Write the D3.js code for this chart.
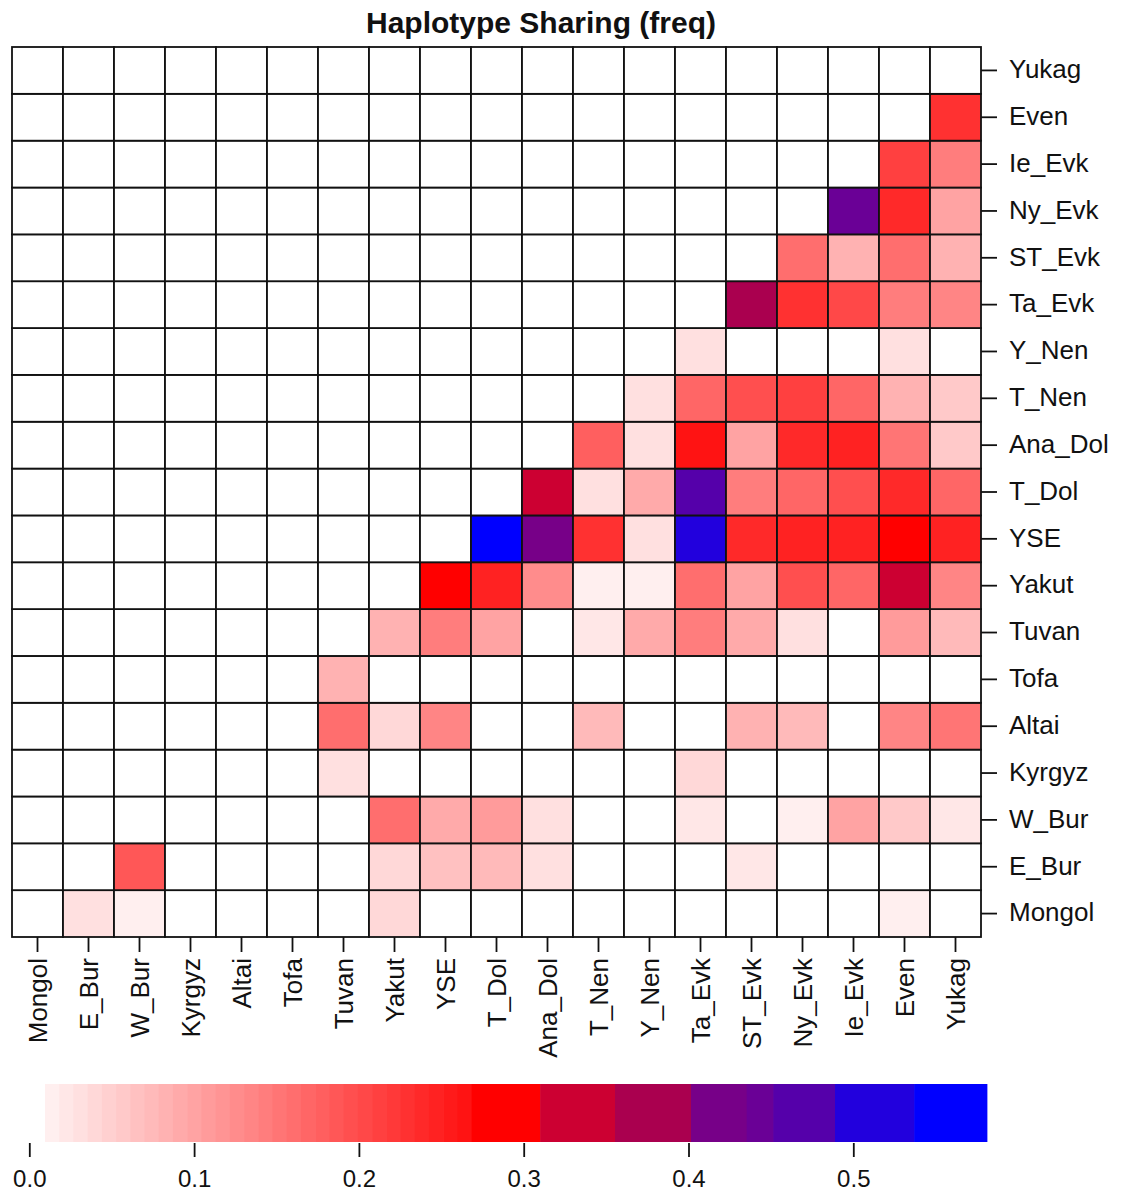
<!DOCTYPE html>
<html>
<head>
<meta charset="utf-8">
<script src="https://cdn.jsdelivr.net/npm/d3@7"></script>
<style>
  html, body { margin: 0; padding: 0; background: #fff; }
  svg { display: block; font-family: "Liberation Sans", Arial, sans-serif; }
</style>
</head>
<body>
<svg id="chart" width="1126" height="1196"></svg>
<script>
// ---------- data ----------
const populations = ["Mongol","E_Bur","W_Bur","Kyrgyz","Altai","Tofa","Tuvan","Yakut","YSE","T_Dol",
  "Ana_Dol","T_Nen","Y_Nen","Ta_Evk","ST_Evk","Ny_Evk","Ie_Evk","Even","Yukag"];

// sharing[i][j] : haplotype sharing frequency between populations[i] (row) and populations[j] (column)
const sharing = [
/* Mongol  */ [0, .031, .015, 0, 0, 0, 0, .044, 0, 0, 0, 0, 0, 0, 0, 0, 0, .015, 0],
/* E_Bur   */ [0, 0, .190, 0, 0, 0, 0, .044, .067, .076, .031, 0, 0, 0, .026, 0, 0, 0, 0],
/* W_Bur   */ [0, 0, 0, 0, 0, 0, 0, .163, .092, .112, .035, 0, 0, .022, 0, .015, .099, .056, .026],
/* Kyrgyz  */ [0, 0, 0, 0, 0, 0, .035, 0, 0, 0, 0, 0, 0, .044, 0, 0, 0, 0, 0],
/* Altai   */ [0, 0, 0, 0, 0, 0, .158, .044, .131, 0, 0, .072, 0, 0, .085, .072, 0, .131, .149],
/* Tofa    */ [0, 0, 0, 0, 0, 0, .085, 0, 0, 0, 0, 0, 0, 0, 0, 0, 0, 0, 0],
/* Tuvan   */ [0, 0, 0, 0, 0, 0, 0, .082, .140, .103, 0, .022, .094, .140, .094, .035, 0, .112, .072],
/* Yakut   */ [0, 0, 0, 0, 0, 0, 0, 0, .290, .244, .122, .015, .015, .158, .103, .194, .169, .330, .131],
/* YSE     */ [0, 0, 0, 0, 0, 0, 0, 0, 0, .560, .420, .227, .031, .510, .240, .251, .244, .290, .244],
/* T_Dol   */ [0, 0, 0, 0, 0, 0, 0, 0, 0, 0, .330, .031, .092, .470, .140, .169, .194, .240, .169],
/* Ana_Dol */ [0, 0, 0, 0, 0, 0, 0, 0, 0, 0, 0, .180, .031, .263, .103, .240, .247, .153, .058],
/* T_Nen   */ [0, 0, 0, 0, 0, 0, 0, 0, 0, 0, 0, 0, .035, .172, .194, .208, .169, .085, .058],
/* Y_Nen   */ [0, 0, 0, 0, 0, 0, 0, 0, 0, 0, 0, 0, 0, .031, 0, 0, 0, .035, 0],
/* Ta_Evk  */ [0, 0, 0, 0, 0, 0, 0, 0, 0, 0, 0, 0, 0, 0, .380, .227, .203, .140, .131],
/* ST_Evk  */ [0, 0, 0, 0, 0, 0, 0, 0, 0, 0, 0, 0, 0, 0, 0, .158, .082, .158, .082],
/* Ny_Evk  */ [0, 0, 0, 0, 0, 0, 0, 0, 0, 0, 0, 0, 0, 0, 0, 0, .445, .238, .103],
/* Ie_Evk  */ [0, 0, 0, 0, 0, 0, 0, 0, 0, 0, 0, 0, 0, 0, 0, 0, 0, .208, .140],
/* Even    */ [0, 0, 0, 0, 0, 0, 0, 0, 0, 0, 0, 0, 0, 0, 0, 0, 0, 0, .227],
/* Yukag   */ [0, 0, 0, 0, 0, 0, 0, 0, 0, 0, 0, 0, 0, 0, 0, 0, 0, 0, 0]
];

const titleText = "Haplotype Sharing (freq)";
const colorbarTicks = [0, 0.1, 0.2, 0.3, 0.4, 0.5];
const gradientStart = 0.0095, gradientEnd = 0.2684, gradientBins = 30;
const darkBreaks = [0.2684, 0.310, 0.3554, 0.4015, 0.4353, 0.4515, 0.4889, 0.537, 0.581];
const darkColors = ["#ff0000", "#cc0032", "#aa004f", "#770088", "#6a0096", "#5500aa", "#2200dd", "#0000ff"];

// ---------- colour scale (binned) ----------
const gradEdges = d3.range(gradientBins + 1).map(k => gradientStart + k * (gradientEnd - gradientStart) / gradientBins);
const gradColors = d3.range(gradientBins).map(k => {
  const mid = (gradEdges[k] + gradEdges[k + 1]) / 2;
  const g = Math.max(0, Math.min(255, Math.round(251 - 880 * mid)));
  return d3.rgb(255, g, g).formatHex();
});
const allEdges = gradEdges.concat(darkBreaks.slice(1));           // bin edges
const binColors = gradColors.concat(darkColors);                  // one colour per bin
const color = d3.scaleThreshold()
  .domain(allEdges.slice(0, -1))
  .range(["#ffffff"].concat(binColors));

// ---------- layout ----------
const svg = d3.select("#chart");
const x = d3.scaleBand().domain(populations).range([12, 981]).padding(0);
const y = d3.scaleBand().domain(populations.slice().reverse()).range([47, 937]).padding(0);

svg.append("text")
  .attr("x", 541).attr("y", 33)
  .attr("text-anchor", "middle")
  .attr("font-weight", "bold")
  .attr("font-size", 30)
  .attr("fill", "#111")
  .text(titleText);

const cells = [];
populations.forEach((rp, i) => populations.forEach((cp, j) => cells.push({ row: rp, col: cp, v: sharing[i][j] })));

svg.append("g").selectAll("rect").data(cells).join("rect")
  .attr("x", d => x(d.col))
  .attr("y", d => y(d.row))
  .attr("width", x.bandwidth())
  .attr("height", y.bandwidth())
  .attr("fill", d => color(d.v))
  .attr("stroke", "#111")
  .attr("stroke-width", 1.8);

// right axis
const rightAxis = svg.append("g")
  .attr("transform", "translate(981,0)")
  .call(d3.axisRight(y).tickSize(16).tickPadding(12));
rightAxis.select(".domain").remove();
rightAxis.selectAll("line").attr("stroke", "#111").attr("stroke-width", 1.8);
rightAxis.selectAll("text")
  .attr("font-size", 26)
  .attr("font-family", "Liberation Sans, Arial, sans-serif")
  .attr("fill", "#111")
  .attr("dy", "0.3em");

// bottom axis
const bottomAxis = svg.append("g")
  .attr("transform", "translate(0,937)")
  .call(d3.axisBottom(x).tickSize(15).tickPadding(6));
bottomAxis.select(".domain").remove();
bottomAxis.selectAll("line").attr("stroke", "#111").attr("stroke-width", 1.8);
bottomAxis.selectAll("text")
  .attr("font-size", 26)
  .attr("font-family", "Liberation Sans, Arial, sans-serif")
  .attr("fill", "#111")
  .attr("text-anchor", "end")
  .attr("transform", "rotate(-90)")
  .attr("x", -21)
  .attr("y", 0)
  .attr("dy", "0.35em");

// ---------- colour bar ----------
const cx = d3.scaleLinear().domain([0, 0.5]).range([29.3, 853.3]);
const barTop = 1084, barH = 58;
const bins = binColors.map((c, k) => ({ a: allEdges[k], b: allEdges[k + 1], c }));
svg.append("g").selectAll("rect").data(bins).join("rect")
  .attr("x", d => cx(d.a))
  .attr("y", barTop)
  .attr("width", d => cx(d.b) - cx(d.a) + 0.6)
  .attr("height", barH)
  .attr("fill", d => d.c);

const barAxis = svg.append("g")
  .attr("transform", `translate(0,${barTop + barH + 1})`)
  .call(d3.axisBottom(cx).tickValues(colorbarTicks).tickFormat(d3.format(".1f")).tickSize(14).tickPadding(13));
barAxis.select(".domain").remove();
barAxis.selectAll("line").attr("stroke", "#111").attr("stroke-width", 1.8);
barAxis.selectAll("text")
  .attr("font-size", 24)
  .attr("font-family", "Liberation Sans, Arial, sans-serif")
  .attr("fill", "#111");
</script>
</body>
</html>
